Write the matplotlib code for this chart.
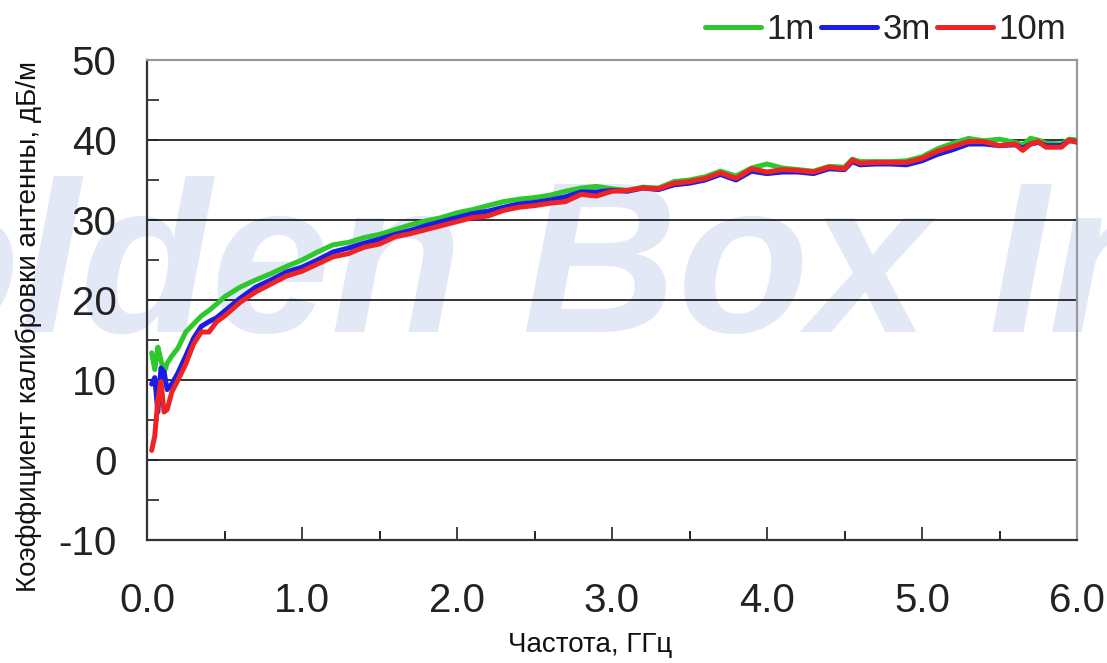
import matplotlib

matplotlib.use("Agg")

import matplotlib.pyplot as plt
from matplotlib.ticker import MultipleLocator

plt.rcParams["font.family"] = ["Liberation Sans", "DejaVu Sans"]
plt.rcParams["axes.unicode_minus"] = False

freq = [0.03, 0.05, 0.07, 0.09, 0.11, 0.13, 0.16, 0.2, 0.25, 0.3, 0.35, 0.4, 0.45, 0.5,
        0.6, 0.7, 0.8, 0.9, 1.0, 1.1, 1.2, 1.3, 1.4, 1.5, 1.6, 1.7, 1.8, 1.9, 2.0,
        2.1, 2.2, 2.3, 2.4, 2.5, 2.6, 2.7, 2.8, 2.9, 3.0, 3.1, 3.2, 3.3, 3.4, 3.5,
        3.6, 3.7, 3.8, 3.9, 4.0, 4.1, 4.2, 4.3, 4.4, 4.5, 4.55, 4.6, 4.7, 4.8, 4.9,
        5.0, 5.1, 5.2, 5.3, 5.4, 5.5, 5.6, 5.65, 5.7, 5.75, 5.8, 5.9, 5.95, 6.0]

af_1m = [13.4, 11.3, 14.1, 12.5, 10.9, 12.1, 13.0, 14.0, 16.0, 17.0, 18.0, 18.7, 19.5, 20.4,
         21.6, 22.5, 23.3, 24.2, 25.0, 26.0, 26.9, 27.2, 27.8, 28.2, 28.8, 29.4, 29.9, 30.3, 30.9,
         31.3, 31.8, 32.3, 32.6, 32.8, 33.1, 33.6, 34.0, 34.2, 33.9, 33.7, 34.1, 34.0, 34.8, 35.0,
         35.4, 36.1, 35.5, 36.5, 37.0, 36.5, 36.3, 36.1, 36.7, 36.6, 37.6, 37.3, 37.3, 37.3, 37.4,
         37.9, 38.9, 39.6, 40.2, 39.9, 40.1, 39.7, 39.4, 40.2, 40.0, 39.6, 39.5, 40.1, 40.0]

af_3m = [9.5, 10.3, 6.0, 11.5, 11.0, 8.8, 9.5, 10.9, 13.0, 15.2, 16.7, 17.3, 17.8, 18.6,
         20.2, 21.6, 22.5, 23.5, 24.1, 25.0, 26.0, 26.5, 27.1, 27.6, 28.2, 28.7, 29.3, 29.8, 30.3,
         30.8, 31.1, 31.6, 32.0, 32.2, 32.5, 32.9, 33.5, 33.5, 33.7, 33.6, 34.0, 33.8, 34.4, 34.6,
         35.0, 35.7, 35.0, 36.1, 35.8, 36.0, 36.0, 35.8, 36.4, 36.3, 37.3, 36.9, 37.0, 37.0, 36.9,
         37.4, 38.2, 38.8, 39.5, 39.5, 39.3, 39.4, 39.0, 39.5, 39.7, 39.3, 39.3, 39.9, 39.8]

af_10m = [1.2, 3.0, 7.5, 9.8, 6.0, 6.3, 8.5, 10.0, 12.0, 14.5, 16.0, 16.0, 17.3, 18.0,
          19.7, 21.0, 22.0, 23.0, 23.6, 24.5, 25.4, 25.8, 26.6, 27.0, 27.9, 28.3, 28.8, 29.3, 29.8,
          30.3, 30.5, 31.2, 31.6, 31.8, 32.1, 32.3, 33.2, 33.0, 33.6, 33.7, 34.0, 33.9, 34.6, 34.8,
          35.2, 35.9, 35.2, 36.4, 36.0, 36.3, 36.2, 36.0, 36.6, 36.4, 37.5, 37.1, 37.2, 37.2, 37.2,
          37.7, 38.6, 39.2, 39.8, 39.8, 39.3, 39.5, 38.7, 39.5, 39.8, 39.1, 39.1, 40.0, 39.7]

series = [("1m", af_1m, "#2ec82e"), ("3m", af_3m, "#1c1ce6"), ("10m", af_10m, "#ee2424")]

fig = plt.figure(figsize=(11.07, 6.63), dpi=100)

# faint watermark behind everything
fig.text(-0.252, 0.5, "Golden Box Inc", fontsize=155, fontweight="bold", style="italic",
         color="#e2e8f5", ha="left", va="baseline", zorder=0)

ax = fig.add_axes([0.1328, 0.1855, 0.8401, 0.724])
ax.set_zorder(2)
ax.patch.set_alpha(0)

for label, vals, color in series:
    ax.plot(freq, vals, color=color, lw=3.6, label=label, solid_capstyle="round", zorder=3)

ax.set_xlim(0, 6)
ax.set_ylim(-10, 50)
ax.xaxis.set_major_locator(MultipleLocator(1))
ax.xaxis.set_minor_locator(MultipleLocator(0.5))
ax.yaxis.set_major_locator(MultipleLocator(10))
ax.yaxis.set_minor_locator(MultipleLocator(5))
ax.xaxis.set_major_formatter(lambda v, p: f"{v:.1f}")

ax.tick_params(axis="x", which="major", direction="in", length=9.5, width=1.2,
               labelsize=29, pad=30, colors="#222222")
ax.tick_params(axis="x", which="minor", direction="in", length=6.5, width=1.2)
ax.tick_params(axis="y", which="both", direction="in", length=8.5, width=1.2,
               labelsize=29, pad=22, colors="#222222")

for y in [0, 10, 20, 30, 40]:
    ax.axhline(y, color="#111111", lw=1.2, zorder=1)

ax.spines["left"].set_color("#333333")
ax.spines["bottom"].set_color("#333333")
ax.spines["top"].set_color("#999999")
ax.spines["right"].set_color("#999999")
for s in ax.spines.values():
    s.set_linewidth(1.6)

fig.text(0.026, 0.507, "Коэффициент калибровки антенны, дБ/м", rotation=90,
         fontsize=20, ha="center", va="center", color="#111111")
fig.text(0.533, 0.027, "Частота, ГГц", fontsize=20, ha="center", va="center", color="#111111")

fig.legend(loc="upper right", bbox_to_anchor=(0.991, 1.028), ncol=3, frameon=False,
           fontsize=25, handlelength=1.6, handletextpad=0.15, columnspacing=0.2,
           labelcolor="#222222")

fig.savefig("out.png", dpi=100)
